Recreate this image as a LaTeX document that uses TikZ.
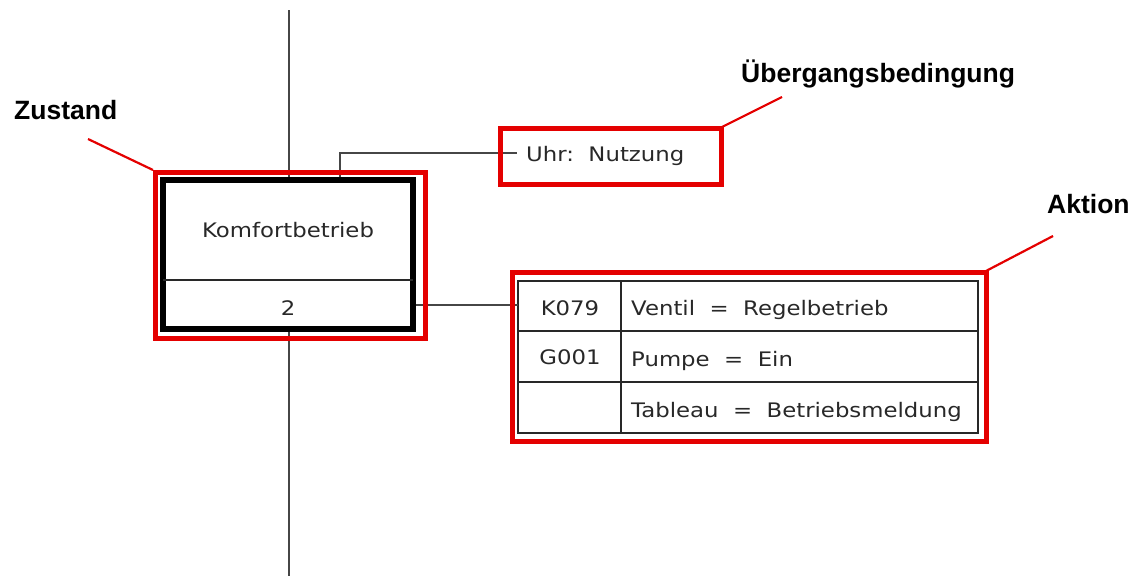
\documentclass[tikz,border=0pt]{standalone}
\usepackage{fontspec}
\setmainfont{Liberation Sans}
\newfontfamily\cadfont{DejaVu Sans}
\definecolor{mark}{RGB}{228,0,0}
\definecolor{ink}{RGB}{40,40,40}
\definecolor{wire}{RGB}{70,70,70}
% wide lettering of the drawing-office font
\newcommand\cadwide[1]{\scalebox{1.14}[1]{#1}}
\begin{document}
\begin{tikzpicture}[x=1pt,y=-1pt,
  callout/.style={font=\fontsize{26.5}{30}\selectfont\bfseries, text=black, inner sep=0pt},
  cadtext/.style={font=\cadfont\fontsize{20}{23}\selectfont, text=ink, inner sep=0pt},
  redframe/.style={draw=mark, line width=5pt},
  leader/.style={draw=mark, line width=2.2pt},
  wireline/.style={draw=wire, line width=2pt},
  grid/.style={draw=ink, line width=2pt}]
\useasboundingbox (0,0) rectangle (1139,576);

% sequence line
\coordinate (topend) at (289,10);
\coordinate (botend) at (289,576);

% state block
\node[draw=black, line width=6pt, minimum width=250pt, minimum height=149pt,
      inner sep=0pt] (state) at (288,254.5) {};
\draw[ink, line width=1.6pt] (163,280) -- (413,280);
\node[cadtext] (stname) at (288,230) {\cadwide{Komfortbetrieb}};
\node[cadtext] (stnum) at (288,308) {\cadwide{2}};
\draw[wireline] (topend) -- (state.north -| topend);
\draw[wireline] (state.south -| botend) -- (botend);

% transition condition
\node[cadtext, anchor=west] (cond) at (526,156) {\cadwide{Uhr:\ \ Nutzung}};
\coordinate (bend) at (340,153);
\coordinate (condin) at (517,153);
\draw[wireline] (state.north -| bend) -- (bend) -- (condin);

% action table
\coordinate (tl) at (518,281);
\coordinate (br) at (978,433);
\draw[grid] (tl) rectangle (br);
\draw[grid] (621,281) -- (621,433);
\draw[grid] (518,331) -- (978,331);
\draw[grid] (518,382) -- (978,382);
\node[cadtext] (k079) at (570,308) {\cadwide{K079}};
\node[cadtext] (g001) at (570,357) {\cadwide{G001}};
\node[cadtext, anchor=west] (a1) at (631,310) {\cadwide{Ventil\ \ =\ \ Regelbetrieb}};
\node[cadtext, anchor=west] (a2) at (631,361) {\cadwide{Pumpe\ \ =\ \ Ein}};
\node[cadtext, anchor=west] (a3) at (631,412) {\cadwide{Tableau\ \ =\ \ Betriebsmeldung}};
\draw[wireline] (state.east |- 0,305) -- (518,305);

% red highlight frames
\draw[redframe] (155,172) rectangle (425,338);
\draw[redframe] (500,128) rectangle (721,184);
\draw[redframe] (512,272) rectangle (986,441);

% callout labels
\node[callout, anchor=base west] (zustand) at (14,119) {Zustand};
\node[callout, anchor=base west] (uebergang) at (741,82) {Übergangsbedingung};
\node[callout, anchor=base west] (aktion) at (1047,213) {Aktion};

\coordinate (z1) at (88,139);
\coordinate (z2) at (153,170);
\coordinate (u1) at (782,97);
\coordinate (u2) at (722,127);
\coordinate (k1) at (1053,236);
\coordinate (k2) at (986,271);
\draw[leader] (z1) -- (z2);
\draw[leader] (u1) -- (u2);
\draw[leader] (k1) -- (k2);
\end{tikzpicture}
\end{document}
